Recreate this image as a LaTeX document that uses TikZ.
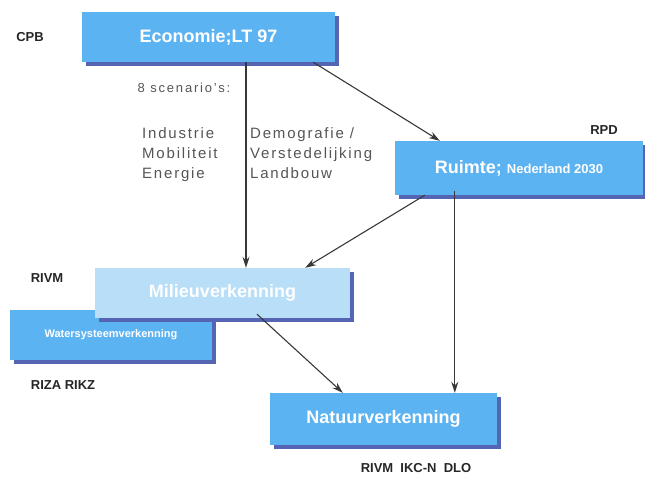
\documentclass[tikz,border=0pt]{standalone}
\usepackage{fontspec}
\setmainfont{Liberation Sans}
\usetikzlibrary{arrows.meta,positioning,shadows}
\definecolor{boxblue}{HTML}{5CB3F2}
\definecolor{paleblue}{HTML}{B8DEF8}
\definecolor{shadeblue}{HTML}{5664B4}
\definecolor{arrowgray}{HTML}{383838}
\definecolor{textgray}{HTML}{555555}

\begin{document}
\begin{tikzpicture}[x=1pt, y=-1pt]
	\tikzstyle{studie} = [rectangle, fill=boxblue, text=white, font=\bfseries\fontsize{18}{20}\selectfont,
		inner sep=0pt, drop shadow={shadow xshift=4pt, shadow yshift=-4pt, fill=shadeblue, opacity=1}];
	\tikzstyle{instituut} = [font=\bfseries\fontsize{13}{15}\selectfont, text=black!85];
	\tikzstyle{thema} = [font=\fontsize{15}{20}\selectfont\addfontfeature{LetterSpace=12}, text=textgray,
		align=left, anchor=north west, inner sep=0pt];
	\tikzstyle{pijl} = [-{Stealth[length=11pt,width=7pt]}, draw=arrowgray, line width=1.1pt];

	\useasboundingbox (0,0) rectangle (645,480);

	\node [studie, minimum width=253pt, minimum height=50pt] (eco) at (208.5,37) {Economie;LT 97};
	\node [studie, minimum width=248pt, minimum height=54pt] (ruimte) at (519,168)
		{Ruimte; {\fontsize{13}{15}\selectfont Nederland 2030}};
	\node [studie, minimum width=202pt, minimum height=50pt, font=\bfseries\fontsize{11}{13}\selectfont] (water) at (111,335) {Watersysteemverkenning};
	\node [studie, fill=paleblue, minimum width=255pt, minimum height=50pt] (milieu) at (222.5,293) {Milieuverkenning};
	\node [studie, minimum width=227pt, minimum height=52pt] (natuur) at (383.5,419) {Natuurverkenning};

	\node [instituut] (cpb) at (30,37) {CPB};
	\node [instituut] (rpd) at (604,130) {RPD};
	\node [instituut] (rivm) at (47,278) {RIVM};
	\node [instituut] (riza) at (63,385) {RIZA RIKZ};
	\node [instituut] (natinst) at (416,468) {RIVM~~IKC-N~~DLO};

	\node [font=\fontsize{13}{14}\selectfont\addfontfeature{LetterSpace=14}, text=textgray] (scen) at (184,88) {8 scenario's:};
	\node [thema] (links) at (142,127) {Industrie\\Mobiliteit\\Energie};
	\node [thema] (rechts) at (250,127) {Demografie /\\Verstedelijking\\Landbouw};

	\draw [pijl] ([xshift=37.5pt]eco.south) -- ([xshift=23.5pt]milieu.north);
	\draw [pijl] ([xshift=-22pt]eco.south east) -- ([xshift=45pt]ruimte.north west);
	\draw [pijl] ([xshift=30pt]ruimte.south west) -- ([xshift=-45pt]milieu.north east);
	\draw [pijl] ([xshift=60pt,yshift=4pt]ruimte.south west) -- ([xshift=185pt]natuur.north west);
	\draw [pijl] ([xshift=34.5pt,yshift=4pt]milieu.south) -- ([xshift=73pt]natuur.north west);
\end{tikzpicture}
\end{document}
